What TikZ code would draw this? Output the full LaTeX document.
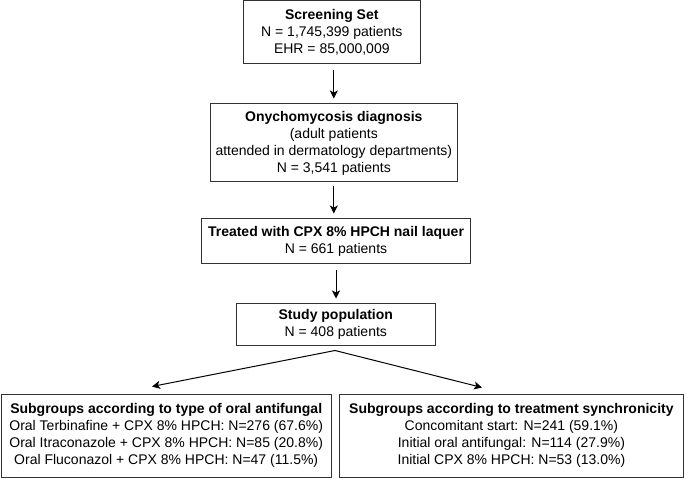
\documentclass[tikz,border=0pt]{standalone}
\usepackage{fontspec}
\setmainfont{Liberation Sans}
\usetikzlibrary{arrows.meta,calc}
\tikzset{
  box/.style={draw=black!80, line width=1pt, align=center, inner sep=0pt,
    font=\fontsize{14}{17}\selectfont},
  conn/.style={draw=black, line width=1pt, -{Stealth[length=8pt,width=8pt,inset=2pt]}},
}
\begin{document}
\begin{tikzpicture}[x=1pt,y=-1pt]
\useasboundingbox (0,0) rectangle (685,478);
\node[box, minimum width=177pt, minimum height=63pt] (b1) at (331.8,32.5)
  {\textbf{Screening Set}\\N = 1,745,399 patients\\EHR = 85,000,009};
\node[box, minimum width=246.4pt, minimum height=78pt] (b2) at (333.8,143)
  {\textbf{Onychomycosis diagnosis}\\(adult patients\\attended in dermatology departments)\\N = 3,541 patients};
\node[box, minimum width=269pt, minimum height=45pt] (b3) at (336,241.5)
  {\textbf{Treated with CPX 8\% HPCH nail laquer}\\N = 661 patients};
\node[box, minimum width=199.6pt, minimum height=42pt] (b4) at (335.8,324)
  {\textbf{Study population}\\N = 408 patients};
\node[box, minimum width=329.7pt, minimum height=83pt] (b5) at (166.2,435.5)
  {\textbf{Subgroups according to type of oral antifungal}\\Oral Terbinafine + CPX 8\% HPCH: N=276 (67.6\%)\\Oral Itraconazole + CPX 8\% HPCH: N=85 (20.8\%)\\Oral Fluconazol + CPX 8\% HPCH: N=47 (11.5\%)};
\node[box, minimum width=344.7pt, minimum height=83pt] (b6) at (511.4,435.5)
  {\textbf{Subgroups according to treatment synchronicity}\\Concomitant start: N=241 (59.1\%)\\Initial oral antifungal: N=114 (27.9\%)\\Initial CPX 8\% HPCH: N=53 (13.0\%)};
\draw[conn, shorten <=6pt, shorten >=5pt] (b2.north |- b1.south) -- (b2.north);
\draw[conn, shorten <=4pt, shorten >=5pt] (b2.south) -- (b2.south |- b3.north);
\draw[conn, shorten <=6pt, shorten >=4pt] (b3.south) -- (b3.south |- b4.north);
\coordinate (apex) at ($(b4.south)+(-0.8,5)$);
\coordinate (t5) at ($(b5.north)+(-14.2,-7)$);
\coordinate (t6) at ($(b6.north)+(-29.4,-6)$);
\draw[conn] (apex) -- (t5);
\draw[conn] (apex) -- (t6);
\end{tikzpicture}
\end{document}
